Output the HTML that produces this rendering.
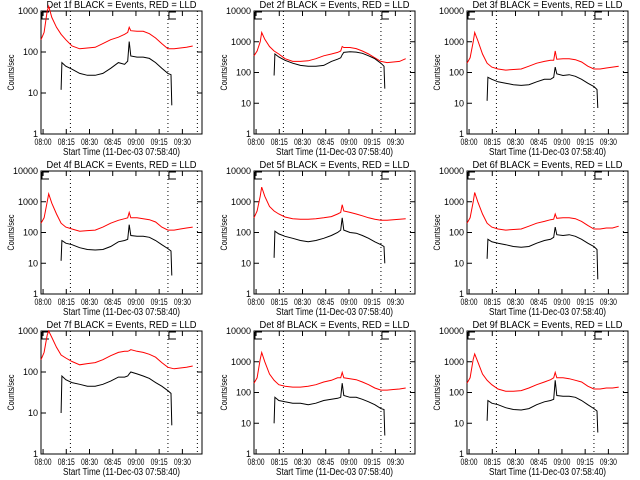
<!DOCTYPE html>
<html><head><meta charset="utf-8"><style>
html,body{margin:0;padding:0;background:#fff;}
svg{display:block;font-family:"Liberation Sans",sans-serif;}
</style></head><body>
<svg id="chart" width="640" height="480" viewBox="0 0 640 480" xmlns="http://www.w3.org/2000/svg"></svg>
<script>
const detLabels = ["1f","2f","3f","4f","5f","6f","7f","8f","9f"];
const yMaxDecades = [3,4,4,4,4,4,3,4,4];
const redTimes = [0,2,4,5,7,10,13,16,20,25,30,35,40,45,50,54,56,57,58,62,66,70,74,78,82,86,90,94,98];
const blackTimes = [13,13.5,16,20,25,30,35,40,45,50,54,56,57,58,62,66,70,74,78,82,84,84.5];
const red1 = [200,300,1000,1300,700,400,270,200,140,120,125,130,160,200,230,270,300,400,330,320,320,280,220,160,120,120,125,130,140];
const red2 = [350,500,1000,2000,1200,700,500,400,280,230,230,240,280,350,400,450,500,700,650,650,600,500,400,300,230,210,220,230,280];
const red3 = [200,300,1000,2000,1100,400,200,150,130,120,125,130,160,200,230,250,250,500,270,280,280,260,220,160,130,130,140,150,160];
const red4 = [200,300,1000,1800,900,400,200,150,130,110,115,120,150,200,250,280,300,450,300,300,280,260,220,150,120,120,130,140,150];
const red5 = [300,500,1500,3000,1500,700,500,400,320,280,270,270,280,300,330,400,450,800,500,450,400,350,300,270,250,250,260,270,280];
const red6 = [200,300,1000,2000,1000,400,200,150,130,120,125,130,160,200,230,260,270,400,290,300,300,280,230,170,130,130,140,140,160];
const red7 = [200,300,800,1000,700,400,260,220,180,150,160,170,200,250,300,320,320,330,350,320,300,270,230,170,130,120,125,130,140];
const red8 = [200,300,1200,2000,1000,400,250,180,160,150,150,160,180,220,250,300,300,450,300,280,260,220,180,140,120,120,125,130,140];
const red9 = [200,300,1200,1800,1000,400,250,180,130,110,110,115,140,180,220,260,300,450,300,300,280,250,220,160,130,130,140,140,150];
const black1 = [12,55,45,38,30,27,27,30,40,55,50,60,180,80,75,75,70,55,40,30,28,5];
const black2 = [80,400,320,250,200,170,160,160,170,230,270,300,380,450,470,460,420,350,280,200,160,30];
const black3 = [12,70,60,50,45,40,38,40,50,60,60,70,150,90,80,85,75,60,45,35,28,7];
const black4 = [12,55,45,40,32,28,27,28,35,50,55,60,180,80,75,75,70,55,40,30,25,4];
const black5 = [15,110,90,75,65,55,50,55,65,80,100,120,300,120,100,95,80,65,50,40,35,10];
const black6 = [14,60,50,45,40,35,33,35,45,55,60,70,150,85,80,85,75,60,45,35,28,3];
const black7 = [10,80,65,55,50,45,45,50,60,75,75,80,90,100,90,80,70,55,45,35,30,5];
const black8 = [10,70,55,50,45,45,40,45,55,60,65,70,200,80,70,70,60,50,40,30,28,4];
const black9 = [12,55,45,40,32,28,27,30,40,50,55,60,250,80,75,75,70,55,40,30,25,5];
const xTickLabels = ["08:00","08:15","08:30","08:45","09:00","09:15","09:30"];
const xTickMinutes = [1.33,16.33,31.33,46.33,61.33,76.33,91.33];
const dottedMinutes = [19,82,101];
const redSeries=[red1,red2,red3,red4,red5,red6,red7,red8,red9];
const blackSeries=[black1,black2,black3,black4,black5,black6,black7,black8,black9];

const NS="http://www.w3.org/2000/svg";
const svg=document.getElementById('chart');
function mk(tag,attrs,parent){const e=document.createElementNS(NS,tag);for(const k in attrs)e.setAttribute(k,attrs[k]);(parent||svg).appendChild(e);return e;}
const W=161,H=123,TMAX=104;
for(let p=0;p<9;p++){
  const ox=(p%3)*213+41, oy=Math.floor(p/3)*160+11;
  const dec=yMaxDecades[p];
  const g=mk('g',{transform:`translate(${ox},${oy})`});
  
  
  const xs=t=>t*W/TMAX;
  const ys=v=>H-Math.log10(Math.max(v,1))*H/dec;
  const tt=mk('text',{x:W/2,y:-3,'text-anchor':'middle','font-size':'10',textLength:150,lengthAdjust:'spacingAndGlyphs'},g);
  tt.textContent=`Det ${detLabels[p]} BLACK = Events, RED = LLD`;
  
  
  const bx=mk('rect',{x:0,y:0,width:W,height:H,fill:'none',stroke:'#000','stroke-width':1},g);
  
  
  for(let d=0;d<=dec;d++){
    const y=ys(Math.pow(10,d));
    mk('line',{x1:0,x2:5,y1:y,y2:y,stroke:'#000'},g);
    mk('line',{x1:W-5,x2:W,y1:y,y2:y,stroke:'#000'},g);
    const lb=mk('text',{x:-3,y:y+3,'text-anchor':'end','font-size':'9'},g);
    lb.textContent=String(Math.pow(10,d));
    
    
  }
  const yt=mk('text',{transform:`translate(-27,${H/2}) rotate(-90)`,'text-anchor':'middle','font-size':'9',textLength:36,lengthAdjust:'spacingAndGlyphs'},g);
  yt.textContent='Counts/sec';
  
  
  xTickMinutes.forEach((m,i)=>{
    const x=xs(m);
    mk('line',{x1:x,x2:x,y1:H,y2:H-5,stroke:'#000'},g);
    mk('line',{x1:x,x2:x,y1:0,y2:5,stroke:'#000'},g);
    const lb=mk('text',{x:x,y:H+11,'text-anchor':'middle','font-size':'9',textLength:17,lengthAdjust:'spacingAndGlyphs'},g);
    lb.textContent=xTickLabels[i];
    
    
  });
  const xt=mk('text',{x:W/2,y:H+21,'text-anchor':'middle','font-size':'10',textLength:117,lengthAdjust:'spacingAndGlyphs'},g);
  xt.textContent='Start Time (11-Dec-03 07:58:40)';
  
  
  dottedMinutes.forEach(m=>{
    const l=mk('line',{x1:xs(m),x2:xs(m),y1:0,y2:H,stroke:'#000','stroke-dasharray':'1,3'},g);
    
    
  });
  [0,dottedMinutes[1]].forEach(m=>{
    const x=xs(m);
    const b=mk('path',{d:`M${x+1},1 V8 H${x+8} M${x+1},1 H${x+8}`,fill:'none',stroke:'#000'},g);
    
    
  });
  const rp=redTimes.map((t,i)=>`${xs(t).toFixed(1)},${ys(redSeries[p][i]).toFixed(1)}`).join(' ');
  const r=mk('polyline',{points:rp,fill:'none',stroke:'#f00','stroke-width':1},g);
  
  
  const bp=blackTimes.map((t,i)=>`${xs(t).toFixed(1)},${ys(blackSeries[p][i]).toFixed(1)}`).join(' ');
  const b=mk('polyline',{points:bp,fill:'none',stroke:'#000','stroke-width':1},g);
  
  
}
</script>
</body></html>
